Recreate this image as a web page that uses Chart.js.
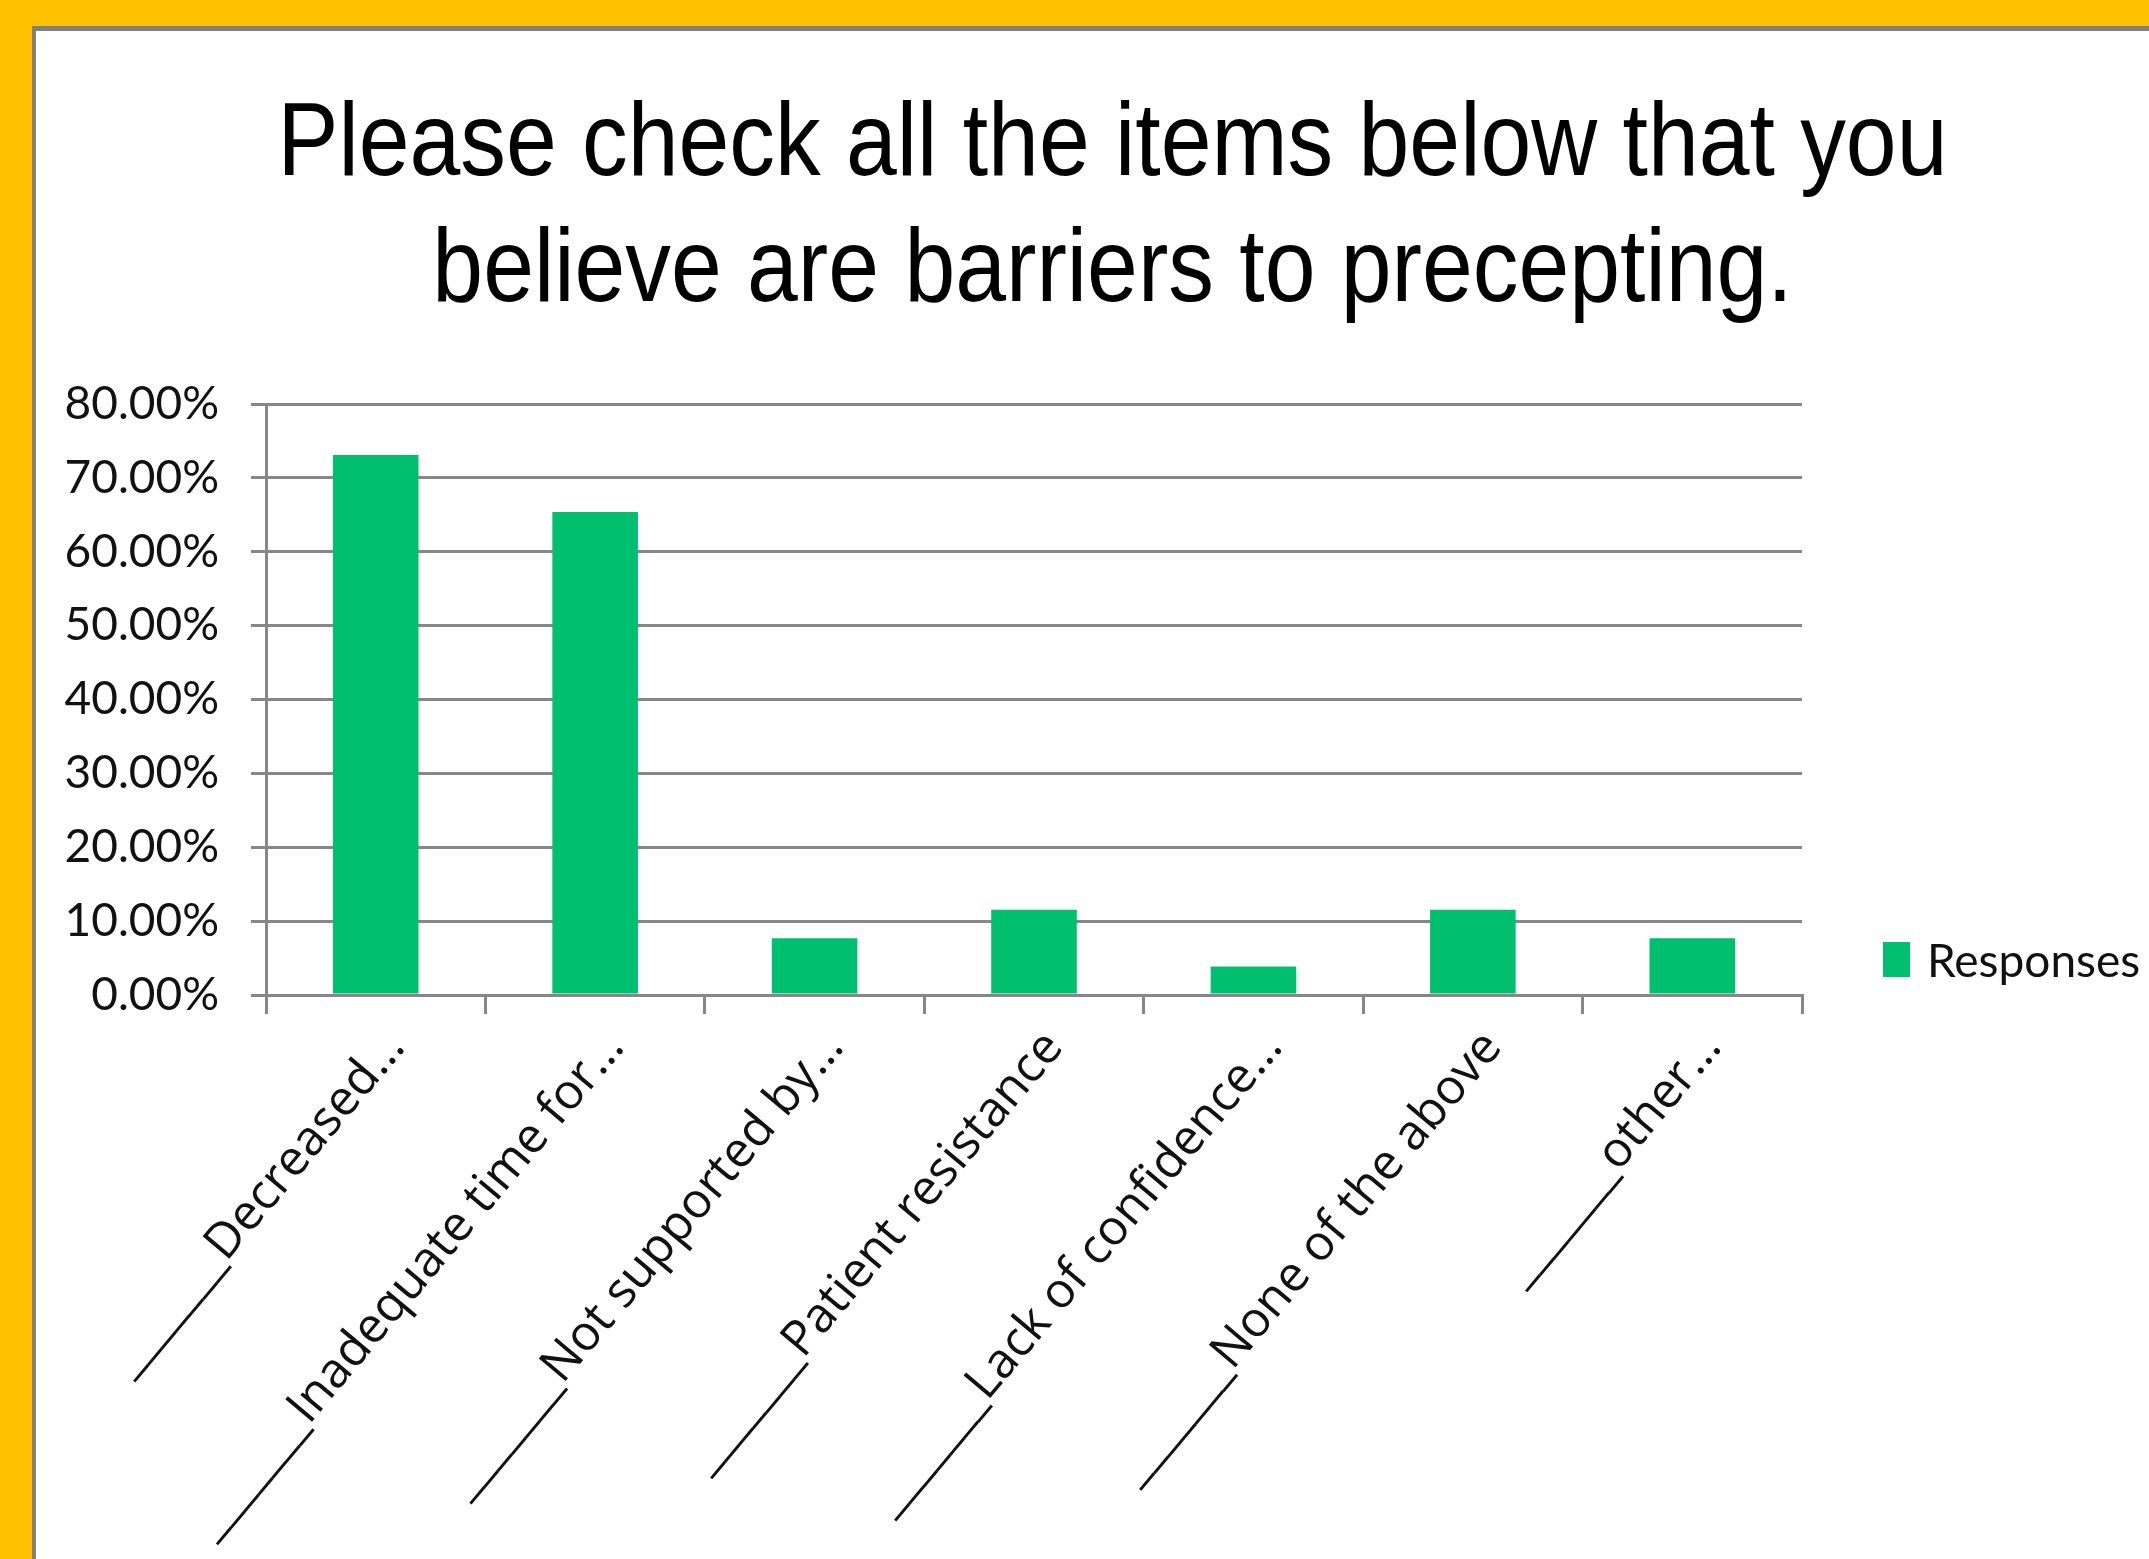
<!DOCTYPE html>
<html lang="en">
<head>
<meta charset="utf-8">
<script src="https://cdn.jsdelivr.net/npm/chart.js"></script>
<style>
  html, body { margin: 0; padding: 0; }
  body { width: 2149px; height: 1559px; overflow: hidden; background: #ffc000; position: relative; }
  .panel { position: absolute; left: 32px; top: 26px; right: 0; bottom: 0; background: #fff;
           border-left: 4px solid #808080; border-top: 5px solid #808080; }
  .title { position: absolute; left: 38px; top: 76px; width: 2149px; text-align: center;
           font-family: "Liberation Sans", Arial, sans-serif; font-size: 104px; line-height: 126px;
           color: #000; transform: scaleX(0.878); }
  .chart-box { position: absolute; left: 0; top: 0; width: 2149px; height: 1559px; }
  .legend-box { position: absolute; left: 1883px; top: 942px; width: 27px; height: 35px; }
  .legend-text { position: absolute; left: 1927px; top: 932px; font-family: Lato, sans-serif;
                 font-size: 46px; line-height: 55px; color: #111; }
</style>
</head>
<body>

<div class="panel"></div>
<div class="title">Please check all the items below that you<br>believe are barriers to precepting.</div>

<div class="chart-box">
    <canvas id="barrierChart"></canvas>
</div>

<!-- legend -->
<div class="legend-box" id="legendBox"></div>
<div class="legend-text" id="legendText"></div>

<script>
    const categories = [
        "_______Decreased\u2026",
        "_______Inadequate time for\u2026",
        "_______Not supported by\u2026",
        "_______Patient resistance",
        "_______Lack of confidence\u2026",
        "_______None of the above",
        "_______other\u2026"
    ];
    const responses = [73.08, 65.38, 7.69, 11.54, 3.85, 11.54, 7.69];
    const yTickLabels = ["0.00%", "10.00%", "20.00%", "30.00%", "40.00%", "50.00%", "60.00%", "70.00%", "80.00%"];
    const seriesName = "Responses";

    const barColor = "#00bf6f";
    const gridColor = "#878787";

    document.getElementById("legendBox").style.background = barColor;
    document.getElementById("legendText").textContent = seriesName;

    var ctx = document.getElementById("barrierChart").getContext("2d");
    var barrierChart = new Chart(ctx, {
        type: "bar",
        data: {
            labels: categories,
            datasets: [{
                label: seriesName,
                data: responses,
                backgroundColor: barColor,
                barPercentage: 0.39,
                categoryPercentage: 1
            }]
        },
        options: {
            responsive: true,
            maintainAspectRatio: false,
            animation: false,
            layout: { padding: { top: 404, right: 347, bottom: 0, left: 0 } },
            plugins: {
                legend: { display: false },
                tooltip: { enabled: false }
            },
            scales: {
                x: {
                    grid: { offset: true, drawOnChartArea: false, tickLength: 19, color: gridColor, lineWidth: 3 },
                    border: { color: gridColor, width: 3 },
                    ticks: {
                        autoSkip: false, minRotation: 50, maxRotation: 50,
                        padding: 6, labelOffset: 20, color: "#111",
                        font: { family: "Open Sans", size: 49 }
                    },
                    afterFit: function(scale) { scale.height = 564; }
                },
                y: {
                    min: 0,
                    max: 80,
                    ticks: {
                        stepSize: 10, padding: 32, color: "#111",
                        font: { family: "Lato", size: 46 },
                        callback: function(value, index) { return yTickLabels[index]; }
                    },
                    grid: { color: gridColor, lineWidth: 3, tickLength: 15 },
                    border: { color: gridColor, width: 3 },
                    afterFit: function(scale) { scale.width = 266; }
                }
            }
        }
    });
</script>
</body>
</html>
